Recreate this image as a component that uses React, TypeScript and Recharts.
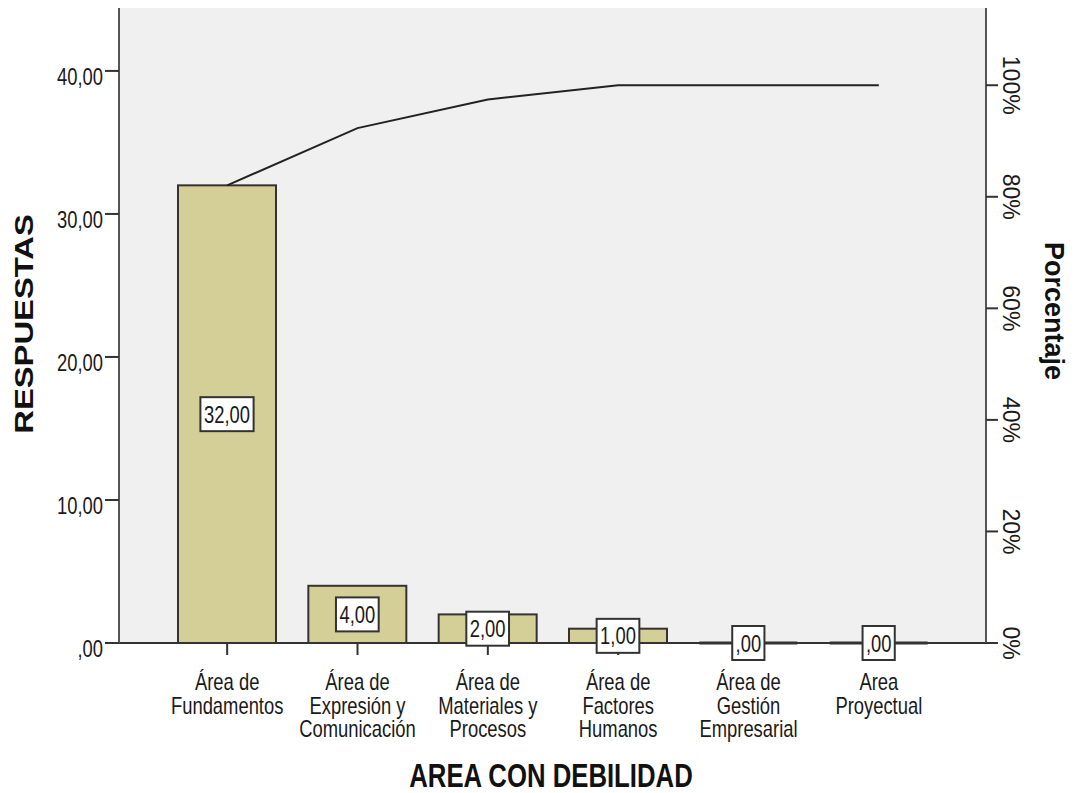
import { ComposedChart, Bar, Line, XAxis, YAxis, LabelList, Label, CartesianGrid } from "recharts"

const categories = [
  ["Área de", "Fundamentos"],
  ["Área de", "Expresión y", "Comunicación"],
  ["Área de", "Materiales y", "Procesos"],
  ["Área de", "Factores", "Humanos"],
  ["Área de", "Gestión", "Empresarial"],
  ["Area", "Proyectual"],
]
const respuestas = [32, 4, 2, 1, 0, 0]
const leftTicks = [0, 10, 20, 30, 40]
const rightTicks = [0, 20, 40, 60, 80, 100]
const leftMax = 44.4

const total = respuestas.reduce((a, b) => a + b, 0)
let running = 0
const data = categories.map((lines, i) => {
  running += respuestas[i]
  return { area: lines.join("\n"), respuestas: respuestas[i], porcentaje: (running / total) * 100 }
})
const rightMax = (leftMax / total) * 100

const FONT = "'Liberation Sans', Arial, sans-serif"
const SQUEEZE = 0.8 // condensed look of the original
const STRETCH = 1.06
const DARK = "#1a1a1a"
const FRAME = "#555"

const fmt = (v: number) => {
  const s = v.toFixed(2).replace(".", ",")
  return s.startsWith("0,") ? s.slice(1) : s
}

const LeftTick = (props: any) => {
  const { x, y, payload } = props
  return (
    <text
      transform={`translate(${x}, ${y + 14}) scale(${SQUEEZE}, ${STRETCH})`}
      textAnchor="end"
      fontFamily={FONT}
      fontSize={23}
      fill={DARK}
    >
      {fmt(payload.value)}
    </text>
  )
}

const RightTick = (props: any) => {
  const { x, y, payload } = props
  return (
    <text x={x} y={y} transform={`rotate(90, ${x}, ${y})`} textAnchor="middle" fontFamily={FONT} fontSize={23} fill={DARK}>
      {payload.value}%
    </text>
  )
}

const CategoryTick = (props: any) => {
  const { x, y, payload } = props
  const lines = String(payload.value).split("\n")
  return (
    <g>
      {lines.map((l, i) => (
        <text
          key={i}
          transform={`translate(${x}, ${y + 33 + i * 23.5}) scale(${SQUEEZE}, 1)`}
          textAnchor="middle"
          fontFamily={FONT}
          fontSize={23}
          fill={DARK}
        >
          {l}
        </text>
      ))}
    </g>
  )
}

const BarShape = (props: any) => {
  const { x, y, width, height } = props
  if (!height) {
    return <line x1={x} x2={x + width} y1={y} y2={y} stroke="#333" strokeWidth={3} />
  }
  return <rect x={x} y={y} width={width} height={height} fill="#d4cf97" stroke="#333" strokeWidth={2} />
}

const ValueBox = (props: any) => {
  const { x, y, width, height, value } = props
  const txt = fmt(Number(value))
  const digits = txt.replace(/[^0-9]/g, "").length
  const w = digits * 10.5 + 5.2 + 6
  const h = 34
  const cx = x + width / 2
  const cy = y + height / 2
  return (
    <g>
      <rect x={cx - w / 2} y={cy - h / 2} width={w} height={h} fill="#fff" stroke="#333" strokeWidth={2} />
      <text
        transform={`translate(${cx}, ${cy + 8.5}) scale(${SQUEEZE}, ${STRETCH})`}
        textAnchor="middle"
        fontFamily={FONT}
        fontSize={23}
        fill={DARK}
      >
        {txt}
      </text>
    </g>
  )
}

export default function App() {
  return (
    <div style={{ position: "absolute", left: 0, top: 0, background: "#fff" }}>
      <ComposedChart width={1076} height={793} data={data} margin={{ top: 8, right: 0, bottom: 0, left: 0 }}>
        <CartesianGrid yAxisId="left" horizontal={false} vertical={false} fill="#f0f0f0" />
        <XAxis
          dataKey="area"
          interval={0}
          height={150}
          padding={{ left: 43, right: 42 }}
          tickSize={12}
          tickLine={{ stroke: "#333", strokeWidth: 2 }}
          axisLine={{ stroke: "#333", strokeWidth: 2 }}
          tick={<CategoryTick />}
        >
          <Label
            content={() => (
              <text
                transform={`translate(551, 787) scale(0.83, 1.05)`}
                textAnchor="middle"
                fontFamily={FONT}
                fontWeight="bold"
                fontSize={31}
                fill="#111"
              >
                AREA CON DEBILIDAD
              </text>
            )}
          />
        </XAxis>
        <XAxis
          xAxisId="top"
          orientation="top"
          dataKey="area"
          height={0}
          tick={false}
          tickLine={false}
          padding={{ left: 43, right: 42 }}
          axisLine={{ stroke: FRAME, strokeWidth: 2 }}
        />
        <YAxis
          yAxisId="left"
          width={119}
          domain={[0, leftMax]}
          ticks={leftTicks}
          tickSize={14}
          tickMargin={2}
          tickLine={{ stroke: "#333", strokeWidth: 2 }}
          axisLine={{ stroke: FRAME, strokeWidth: 2 }}
          tick={<LeftTick />}
        >
          <Label
            content={() => (
              <text
                transform="translate(33, 324) rotate(-90) scale(1.31, 1)"
                textAnchor="middle"
                fontFamily={FONT}
                fontWeight="bold"
                fontSize={25}
                fill="#111"
              >
                RESPUESTAS
              </text>
            )}
          />
        </YAxis>
        <YAxis
          yAxisId="right"
          orientation="right"
          width={90}
          domain={[0, rightMax]}
          ticks={rightTicks}
          tickSize={12}
          tickMargin={5}
          tickLine={{ stroke: "#333", strokeWidth: 2 }}
          axisLine={{ stroke: FRAME, strokeWidth: 2 }}
          tick={<RightTick />}
        >
          <Label
            content={() => (
              <text
                transform="translate(1045, 311) rotate(90)"
                textAnchor="middle"
                fontFamily={FONT}
                fontWeight="bold"
                fontSize={27}
                fill="#111"
              >
                Porcentaje
              </text>
            )}
          />
        </YAxis>
        <Bar yAxisId="left" dataKey="respuestas" barSize={98} shape={<BarShape />} isAnimationActive={false}>
          <LabelList dataKey="respuestas" content={<ValueBox />} />
        </Bar>
        <Line
          yAxisId="right"
          type="linear"
          dataKey="porcentaje"
          stroke="#222"
          strokeWidth={2}
          dot={false}
          activeDot={false}
          isAnimationActive={false}
        />
      </ComposedChart>
    </div>
  )
}
